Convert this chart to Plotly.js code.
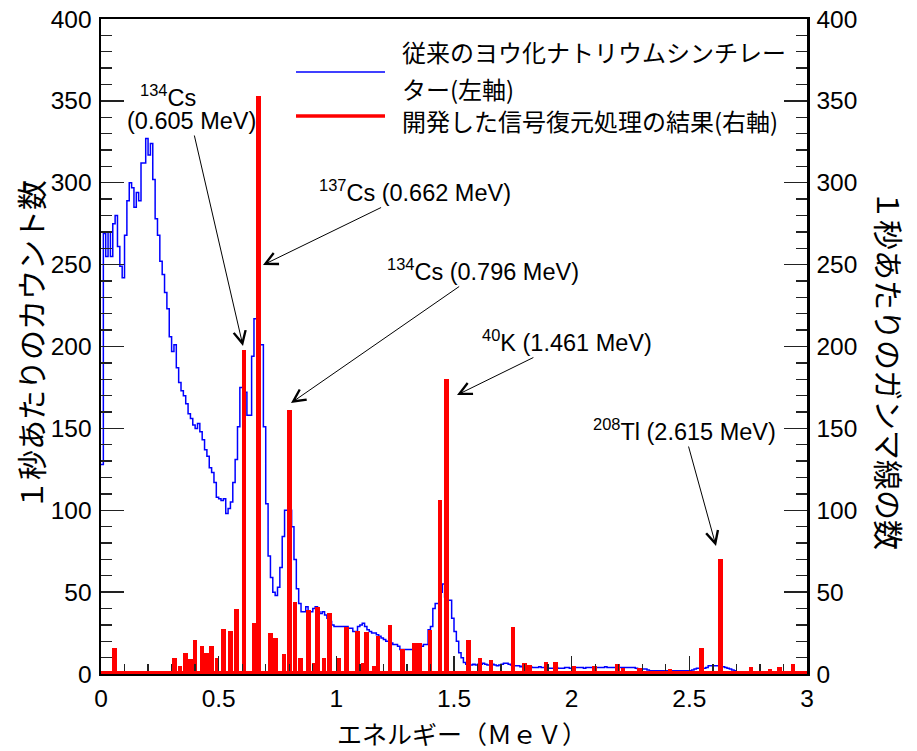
<!DOCTYPE html>
<html><head><meta charset="utf-8">
<script src="https://cdn.plot.ly/plotly-3.0.1.min.js"></script>
<style>html,body{margin:0;padding:0;background:#fff}</style>
</head><body>
<div id="chart" style="width:917px;height:751px"></div>
<script>
// ---- data ----
const binWidth = 0.01; // MeV per bin of the NaI spectrum
const blueCounts = [
  128, 269, 255, 270, 255, 275, 280, 261, 249, 242,
  268, 289, 300, 297, 285, 294, 289, 312, 312, 327,
  317, 324, 302, 278, 268, 252, 244, 233, 223, 206,
  197, 201, 187, 178, 173, 170, 165, 159, 156, 152,
  150, 153, 148, 143, 137, 133, 126, 123, 117, 108,
  107, 106, 107, 98, 101, 105, 117, 131, 151, 175,
  175, 172, 158, 158, 194, 217, 217, 201, 201, 151,
  104, 72, 59, 50, 48, 53, 65, 84, 100, 100,
  100, 90, 70, 52, 43, 38, 38, 41, 38, 38,
  40, 41, 38, 37, 38, 36, 34, 32, 30, 29,
  29, 29, 29, 29, 29, 28, 28, 26, 26, 29,
  30, 31, 29, 27, 26, 25, 25, 24, 23, 22,
  21, 20, 20, 19, 18, 18, 17, 15, 15, 15,
  15, 15, 15, 16, 16, 16, 17, 18, 18, 27,
  29, 40, 43, 43, 50, 55, 47, 45, 45, 34,
  26, 20, 13, 10, 7, 6, 6, 5.5, 6, 5.5,
  6, 6, 6.5, 6, 5.5, 5.5, 6, 5.5, 5, 5.5,
  6, 6.5, 6.5, 6, 5.5, 5, 5, 5, 4.5, 5,
  5, 5, 4.5, 4, 4, 4, 4.5, 4, 4, 3.5,
  3.5, 3.5, 3.5, 4, 3.5, 3.5, 3.5, 4, 4, 3.5,
  3.5, 4, 4, 4, 4, 3.5, 4, 4, 4, 4,
  4, 4, 4, 4, 4.5, 4, 4, 4, 4, 4,
  4, 4, 4, 4, 4, 4, 4, 3.5, 3, 3,
  3, 3, 2.5, 2, 2, 2, 2, 2, 2, 2,
  2, 2, 2, 2, 2, 2, 2, 2, 2, 2,
  2, 2.5, 3, 3.5, 3.5, 3.5, 3.5, 4, 5, 5,
  5, 5, 5, 5, 4.5, 4, 3.5, 3, 2.5, 2
];
const redEnergies = [
  0.056, 0.311, 0.336, 0.360, 0.380, 0.400, 0.429, 0.448, 0.470, 0.493,
  0.521, 0.549, 0.577, 0.608, 0.630, 0.650, 0.669, 0.690, 0.719, 0.740,
  0.778, 0.801, 0.824, 0.847, 0.882, 0.905, 0.921, 0.948, 0.970, 1.010,
  1.043, 1.089, 1.116, 1.128, 1.160, 1.177, 1.228, 1.281, 1.332, 1.352,
  1.398, 1.441, 1.468, 1.561, 1.610, 1.657, 1.751, 1.801, 1.821, 1.891,
  1.930, 2.010, 2.096, 2.194, 2.218, 2.289, 2.418, 2.553, 2.632, 2.762,
  2.843, 2.883, 2.940
];
const redCounts = [
  16, 10, 5, 13, 9, 21, 17, 13, 17, 10,
  27.5, 26, 40, 198, 2, 31, 353, 2, 25, 22,
  12, 161, 44, 10, 39, 7, 41, 10, 37.5, 10,
  29, 26, 6.5, 25.5, 5, 23, 30, 15, 19, 19,
  27, 106, 180, 21, 10, 8.5, 28.5, 7, 5.5, 7.5,
  7.5, 5, 5, 6, 3.5, 3.5, 3, 16, 70, 4.5,
  3, 4, 6
];
const xTickVals = [0, 0.5, 1, 1.5, 2, 2.5, 3];
const xTickText = ['0', '0.5', '1', '1.5', '2', '2.5', '3'];
const yTickVals = [0, 50, 100, 150, 200, 250, 300, 350, 400];
const yTickText = ['0', '50', '100', '150', '200', '250', '300', '350', '400'];
const legendLabels = ['従来のヨウ化ナトリウムシンチレー', 'ター(左軸)', '開発した信号復元処理の結果(右軸)'];
const peakLabels = [
  '<sup>134</sup>Cs', '(0.605 MeV)', '<sup>137</sup>Cs (0.662 MeV)',
  '<sup>134</sup>Cs (0.796 MeV)', '<sup>40</sup>K (1.461 MeV)', '<sup>208</sup>Tl (2.615 MeV)'
];

// ---- build histogram step line ----
const blueX = [], blueY = [];
for (let k = 0; k < blueCounts.length; k++) {
  blueX.push(+(k * binWidth).toFixed(3));
  blueY.push(blueCounts[k]);
}
blueX.push(+(blueCounts.length * binWidth).toFixed(3));
blueY.push(blueCounts[blueCounts.length - 1]);

// ---- layout helpers (pixel -> paper / data) ----
const L = 101, R = 807, T = 19, B = 674;
const PX = p => (p - L) / (R - L);
const PY = p => (B - p) / (B - T);
const DX = p => (p - L) / (R - L) * 3;
const DY = p => (B - p) / (B - T) * 400;

const tickFont = {family: 'Liberation Sans, Arial, sans-serif', size: 24.5, color: '#000'};
const jpFont = s => ({family: 'Noto Sans CJK JP, sans-serif', size: s, color: '#000'});
const labFont = {family: 'Liberation Sans, Arial, sans-serif', size: 23.5, color: '#000'};

const yAxisCommon = {
  range: [0, 400], tickvals: yTickVals, ticktext: yTickText,
  ticks: 'inside', ticklen: 23, tickwidth: 1.3, tickcolor: '#222',
  minor: {ticks: 'inside', dtick: 10, ticklen: 11, tickwidth: 1.3, tickcolor: '#222'},
  showline: true, linewidth: 2.5, linecolor: '#000',
  showgrid: false, zeroline: false, tickfont: tickFont, fixedrange: true,
  ticklabelstandoff: 2
};

const traces = [
  {x: blueX, y: blueY, type: 'scatter', mode: 'lines', line: {shape: 'hv', color: '#0000ff', width: 1.5},
   yaxis: 'y', hoverinfo: 'skip', showlegend: false},
  {x: redEnergies, y: redCounts, type: 'bar', width: 0.02, marker: {color: '#ff0000', line: {width: 0}},
   yaxis: 'y2', hoverinfo: 'skip', showlegend: false}
];

const ann = [];
function txt(text, px, py, font, extra) {
  ann.push(Object.assign({text, xref: 'paper', yref: 'paper', x: PX(px), y: PY(py),
    xanchor: 'center', yanchor: 'middle', showarrow: false, font}, extra || {}));
}
// label centred at (tx,ty) with an arrow pointing to (hx,hy)
function arrowLabel(text, tx, ty, hx, hy) {
  ann.push({text, font: labFont, xref: 'x', yref: 'y', x: DX(hx), y: DY(hy), axref: 'x', ayref: 'y',
    ax: DX(tx), ay: DY(ty), showarrow: true, arrowhead: 5, arrowsize: 2.4, arrowwidth: 1,
    arrowcolor: '#000', standoff: 0, startstandoff: 0});
}
// peak labels
txt(peakLabels[0], 168, 96, labFont);
arrowLabel(peakLabels[1], 191, 121, 243, 346);
arrowLabel(peakLabels[2], 415, 191, 263, 265);
arrowLabel(peakLabels[3], 483, 270, 291, 403);
arrowLabel(peakLabels[4], 567, 341, 457, 395);
arrowLabel(peakLabels[5], 684, 430, 716, 546);
// legend
txt(legendLabels[0], 400, 51, jpFont(24), {xanchor: 'left'});
txt(legendLabels[1], 400, 88, jpFont(24), {xanchor: 'left'});
txt(legendLabels[2], 400, 121, jpFont(24), {xanchor: 'left'});
// axis titles
txt('１秒あたりのカウント数', 30, 345, jpFont(30), {textangle: -90});
txt('１秒あたりのガンマ線の数', 890, 370, jpFont(30), {textangle: 90});
txt('エネルギー（ＭｅＶ）', 462, 733, jpFont(25));

const shapes = [
  {type: 'line', xref: 'paper', yref: 'paper', x0: PX(296), x1: PX(385), y0: PY(72), y1: PY(72),
   line: {color: '#0000ff', width: 1.5}},
  {type: 'line', xref: 'paper', yref: 'paper', x0: PX(296), x1: PX(385), y0: PY(116), y1: PY(116),
   line: {color: '#ff0000', width: 3.5}},
  // red zero line of the histogram
  {type: 'rect', xref: 'paper', yref: 'y2', x0: 0, x1: 1, y0: 0, y1: 3, ysizemode: 'pixel', yanchor: 0,
   fillcolor: '#ff0000', line: {width: 0}, layer: 'above'}
];

const layout = {
  width: 917, height: 751,
  margin: {l: L, r: 917 - R, t: T, b: 751 - B, pad: 0},
  paper_bgcolor: '#fff', plot_bgcolor: '#fff',
  showlegend: false, bargap: 0,
  xaxis: {range: [0, 3], tickvals: xTickVals, ticktext: xTickText,
    ticks: 'inside', ticklen: 18, tickwidth: 1.3, tickcolor: '#222',
    minor: {ticks: 'inside', dtick: 0.1, ticklen: 10, tickwidth: 1.3, tickcolor: '#222'},
    showline: true, linewidth: 2, linecolor: '#000', mirror: true,
    showgrid: false, zeroline: false, tickfont: tickFont, fixedrange: true, ticklabelstandoff: 2},
  yaxis: Object.assign({}, yAxisCommon, {side: 'left'}),
  yaxis2: Object.assign({}, yAxisCommon, {side: 'right', overlaying: 'y'}),
  annotations: ann,
  shapes: shapes
};
Plotly.newPlot('chart', traces, layout, {staticPlot: true, displayModeBar: false});
</script>
</body></html>
